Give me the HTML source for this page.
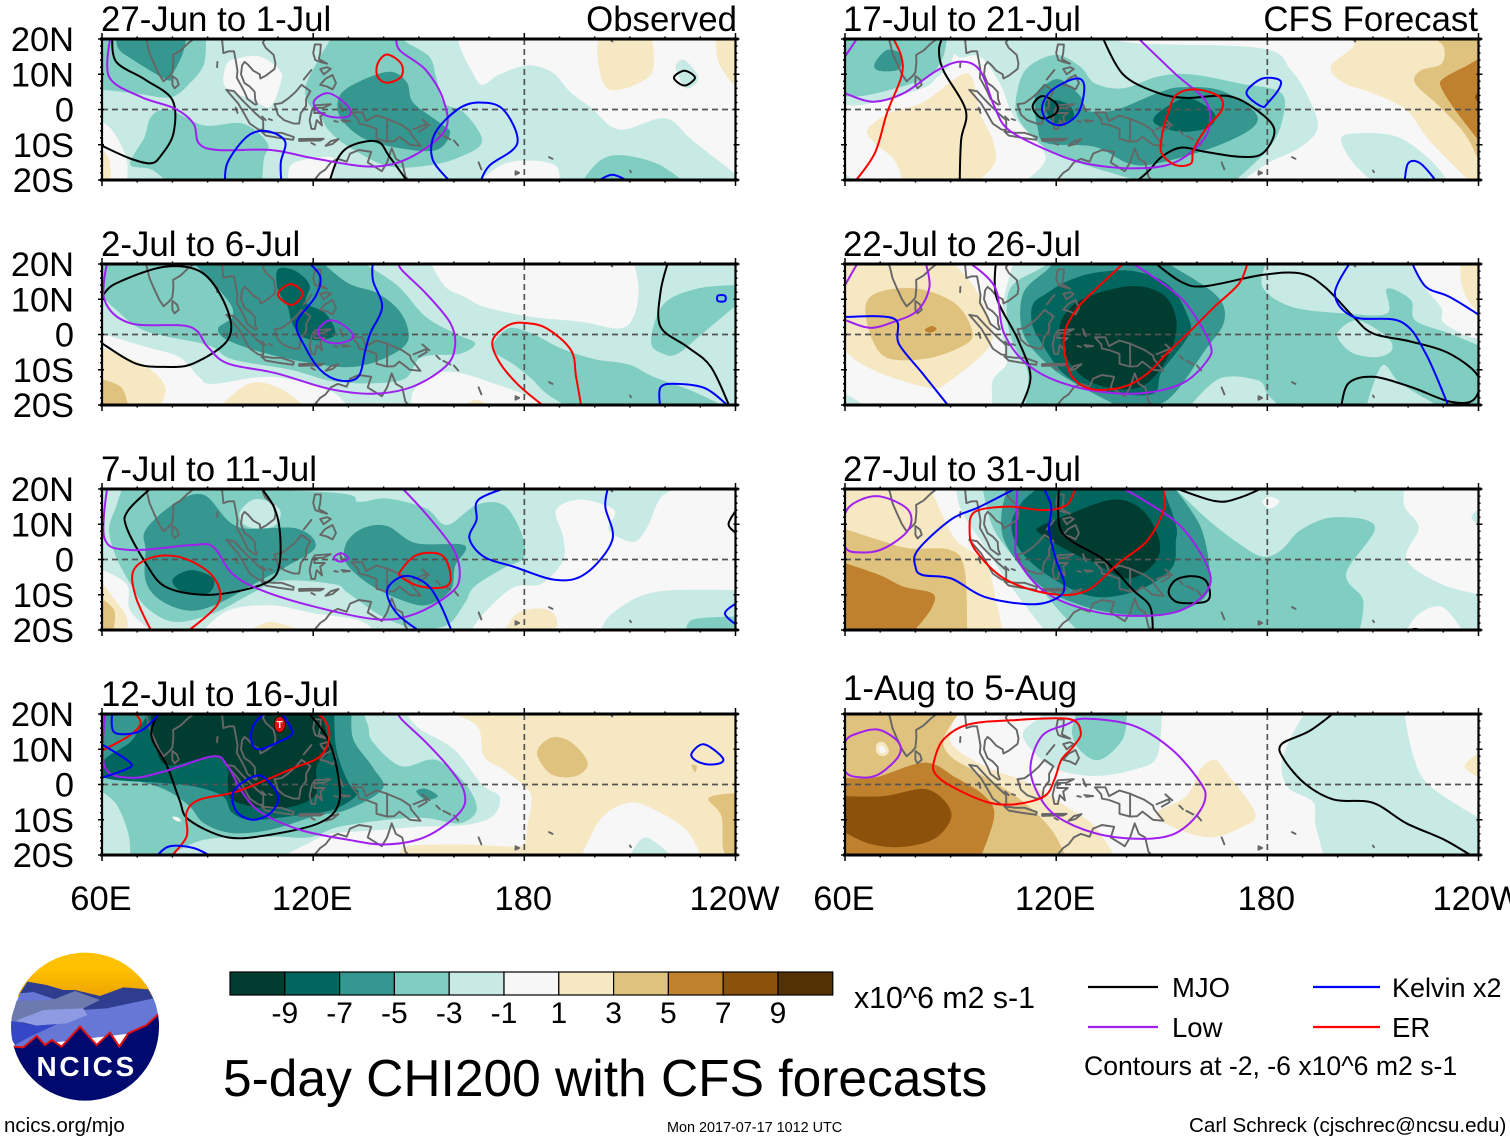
<!DOCTYPE html>
<html lang="en">
<head>
<meta charset="utf-8">
<title>5-day CHI200 with CFS forecasts</title>
<style>
html,body{margin:0;padding:0;background:#fff;width:1510px;height:1142px;overflow:hidden}
svg{display:block;font-family:"Liberation Sans",sans-serif}
</style>
</head>
<body>
<svg id="chart" xmlns="http://www.w3.org/2000/svg" width="1510" height="1142" viewBox="0 0 1510 1142">
  <rect x="0" y="0" width="1510" height="1142" fill="#fff"/>
  <g id="panels"></g>
  <g id="xlabels"></g>
  <g id="colorbar"></g>
  <text x="854" y="1008" font-size="30.3">x10^6 m2 s-1</text>
  <text x="223" y="1096" font-size="51.5">5-day CHI200 with CFS forecasts</text>
  <g>
    <line x1="1088" y1="987" x2="1158" y2="987" stroke="#000" stroke-width="2.2"/>
    <text x="1172" y="997" font-size="27.5">MJO</text>
    <line x1="1088" y1="1027" x2="1158" y2="1027" stroke="#a020f0" stroke-width="2.2"/>
    <text x="1172" y="1037" font-size="27.5">Low</text>
    <line x1="1313" y1="987" x2="1380" y2="987" stroke="#0000ff" stroke-width="2.2"/>
    <text x="1392" y="997" font-size="27">Kelvin x2</text>
    <line x1="1313" y1="1027" x2="1380" y2="1027" stroke="#ff0000" stroke-width="2.2"/>
    <text x="1392" y="1037" font-size="27.5">ER</text>
    <text x="1084" y="1075" font-size="26.6">Contours at -2, -6 x10^6 m2 s-1</text>
  </g>
  <text x="4" y="1132" font-size="20.5">ncics.org/mjo</text>
  <text x="667" y="1132" font-size="14.4">Mon 2017-07-17 1012 UTC</text>
  <text x="1189" y="1132" font-size="20.6">Carl Schreck (cjschrec@ncsu.edu)</text>
  <g transform="translate(0,930) scale(0.33333)">
    <defs>
      <clipPath id="logoClip"><circle cx="255" cy="290" r="222"/></clipPath>
      <linearGradient id="sky" x1="0" y1="0" x2="0" y2="1"><stop offset="0.4" stop-color="#ffc000"/><stop offset="1" stop-color="#eda400"/></linearGradient>
    </defs>
    <g clip-path="url(#logoClip)">
      <rect x="30" y="60" width="455" height="140" fill="url(#sky)"/>
      <polygon points="60,190 82,155 140,165 190,180 225,180 300,198 370,172 445,178 480,240 30,300" fill="#2f3d8f"/>
      <polygon points="60,190 100,186 165,208 100,215 50,215" fill="#6677d6"/>
      <polygon points="32,270 50,212 120,212 165,207 225,183 300,210 240,240 50,280" fill="#6d7aad"/>
      <polygon points="240,240 320,235 460,205 480,250 480,300 40,352 60,320 170,280 240,260" fill="#6677d6"/>
      <polygon points="48,272 130,240 250,235 262,255 200,280 110,287" fill="#8e9be3"/>
      <polygon points="30,272 110,287 172,282 90,320 45,345 30,320" fill="#3447c8"/>
      <polygon points="40,350 70,352 110,318 135,345 155,330 185,350 240,290 290,345 330,308 358,350 385,310 440,285 478,250 490,520 20,520" fill="#000a6e"/>
      <polyline points="40,350 70,352 110,318 135,345 155,330 185,350 240,290 290,345 330,308 358,350 385,310 440,285 478,250" fill="none" stroke="#e01010" stroke-width="6"/>
    </g>
    <text x="260" y="438" text-anchor="middle" font-size="84" font-weight="bold" letter-spacing="8" fill="#fff">NCICS</text>
  </g>
</svg>
<script>
// Axis values
const lonMajorTicks = [60,120,180,240];
const lonTickLabels = ['60E','120E','180','120W'];
const latMajorTicks = [20,10,0,-10,-20];
const latTickLabels = ['20N','10N','0','10S','20S'];

// Colour scale values
const colorbarLevels = [-11,-9,-7,-5,-3,-1,1,3,5,7,9];
const colorbarLabels = ['-9','-7','-5','-3','-1','1','3','5','7','9'];
const fillLevels = [-9,-7,-5,-3,-1,0,1,3,5,7,9];
const fillColors = ['#003c30','#01665e','#35978f','#80cdc1','#c7eae5','#f7f7f7','#f6e8c3','#dfc27d','#bf812d','#8c510a','#543005'];

// Panel titles
const panelTitles = ['27-Jun to 1-Jul','2-Jul to 6-Jul','7-Jul to 11-Jul','12-Jul to 16-Jul','17-Jul to 21-Jul','22-Jul to 26-Jul','27-Jul to 31-Jul','1-Aug to 5-Aug'];

// Coastlines, flat lon,lat lists
const coastlines = [
[70,21,72,21,72.8,19,73.5,16,74.8,13,76.2,10,77.5,8,79,9.3,80,10.5,80.3,13.5,80.2,15.5,82.3,16.7,84.5,18.8,86.7,20.5,87,21],
[80,9.5,81.3,8.5,81.8,7,80.6,6,80,7,80,9.5],
[94,21,94.3,18,94.5,16,96,16.5,97.5,16.5,98,14,98.5,11,98.3,9,99.7,6.5,100.5,5,101.3,3,103.5,1.4,104,1.5,103.5,3,103.4,5,102,6.5,100.5,7.5,99.5,10,99.8,12.5,100.5,13.5,101.5,12.7,103,11,104.8,10,105,8.8,106.5,9.6,109,11.5,109.3,13,108.8,15.5,106.5,17.5,105.7,19,106.7,20.5,108,21],
[95.3,5.6,97.5,5.2,100,2.5,103.5,-1,105.8,-3,105.8,-5.8,104.5,-5.7,102,-4,100.3,-1,98.7,1.7,95.3,5.6],
[105.3,-6.2,108.5,-6.6,111,-6.6,114.5,-7.8,114.3,-8.6,110,-8,106.5,-7.4,105.3,-6.2],
[116,-8.4,119,-8.3,123,-8.3,122,-8.8,119,-8.8,116,-8.9,116,-8.4],
[123.5,-10.3,125,-9,127.2,-8.4,125.5,-9.8,123.5,-10.3],
[119.5,-9.5,120.5,-10],
[109,1.5,111,1.8,113,3.2,115,5,116.7,7,119.2,5.2,118,3,118,1,116.5,-1,116,-4,114.5,-4,111.7,-3,110,-1.5,109,1.5],
[119.7,0,120.5,1.2,125,1.5,123,0.5,120.5,0.4,120.3,-1,121.5,-1,123.3,-1,122,-2,122.5,-4.5,121,-3,120.5,-5.5,119.5,-5.5,119,-3,119.7,0],
[120.5,18.5,122.2,18.4,122,16,121.6,14.3,124,13,122,13.5,120.6,14,120,16,120.5,18.5],
[122,7,123.5,8.7,125.5,9.8,126.5,7.5,125.5,5.7,124,6.5,122,7],
[122,11.5,123,10,125,11.5,124,12,122,11.5],
[117.3,8.5,119.5,11.2],
[127.6,1.5,128.5,-0.5,127.8,0.3],
[128,-3,130.5,-3.3,128.5,-3.5],
[126,-3.3,127,-3.5],
[98,0.5,98.5,-1],
[107.4,-2.7,108.3,-3],
[105.5,-2,106.5,-3],
[131,-0.8,134,-0.8,135,-3.3,138,-1.7,141,-2.6,145,-4.3,147.5,-6,147.8,-7,150.5,-10.3,147.5,-10,144.5,-7.7,143,-9,141,-9.1,138,-8.3,138,-5.5,135,-4.4,133,-4,132.8,-2.8,131,-0.8],
[141,-2.6,141,-9.1],
[148.5,-5.6,152,-4.2,152.3,-5,150,-6.3],
[151,-2.8,153,-4.5],
[155,-6,156,-7],
[157,-7.5,159,-8.5],
[160,-8.8,161.2,-10.2],
[167,-15,167.8,-17],
[177.5,-17.5,178.5,-18,177.5,-18.5,177.5,-17.5],
[187,-13.5,188,-14],
[210,-17.3,210.3,-17.8],
[204,20.3,205,19.3],
[92.7,12,92.8,13.5],
[119.5,-21,122,-18,123.5,-17,125,-15,127,-14,129.5,-14.8,130.5,-12.5,133,-11.5,136.5,-12,135.5,-15,139.5,-17.5,141,-15,142.3,-11,143.5,-14,145.3,-15,146.2,-19,148,-21]
];

// Shaded CHI200 anomaly regions, painted in order: [level, flat lon,lat outline]
const shadingJun27 = [
[-1,[59,21,161,21,162,17,165,11,168,7,173,10,181,12.5,188,10.5,193,5,199,.5,207,-5.7,220,-2.5,228,-9,241,-19,241,-21,59,-21]],
[-1,[223,12,225.5,14,229.5,9,226,6]],
[0,[59,-3,63,-6,67,-14,67,-21,59,-21]],
[1,[59,-10.5,62,-14,62.5,-21,59,-21]],
[0,[113.5,-16,119,-14,126,-14,124,-21,113,-21]],
[0,[166.5,-21,174,-15.5,182,-14.5,189,-16,190,-21]],
[0,[95.5,13,99,14.6,105,15,110.6,11,110.6,7,107.7,.7,103,2.7,95,6.4]],
[-3,[59,21,89.5,21,89,13,85,7.5,79.5,3.5,70,4.5,61,5.5,59,5]],
[-3,[79,0,89,-4.5,100,-4,107,-9.5,106,-14,105.5,-21,79,-21,74,-17,68,-15.5,72,-8,74,-2]],
[-3,[125.6,21,145,21,146.6,19,153,15,155,9,157,2,163,-1,168,-9,161.6,-13.5,152,-16,141,-16,130,-10.5,124.5,-6,122,-2,118.5,2,118,7,122,15]],
[-3,[196,-21,201.5,-14.5,208,-13,218,-15.5,226,-21]],
[-5,[64,21,84,21,83,16,80,10,78.5,8.4,68,14.6,64.6,17.4]],
[-5,[127.6,4,133.3,8,141.8,10.7,146.6,7.7,148.4,2,156,-3.8,158.9,-6.7,155,-11.5,144.7,-11,134,-8,127.6,-2]],
[1,[201,21,216,21,216,10,204.5,5.5,201,13]],
[1,[234.5,21,241,21,241,7,239,7.5,235,14]]
];
const shadingJul2 = [
[-1,[59,21,241,21,241,-21,59,-21]],
[0,[153,21,211,21,212.5,12.6,211,5,207,1.7,196,3.6,182,5,168.5,7.9,163,10.7,157.5,13.6]],
[0,[59,.5,72.4,-3.5,82,-6.4,87.5,-12,91.6,-14,108,-12,124.5,-15.8,130,-21,59,-21]],
[0,[148,-21,148.6,-15.8,155,-11,162,-11,171.6,-14,180,-17,187,-21]],
[1,[59,-3.5,72.4,-9,78,-15,76,-21,59,-21]],
[3,[59,-12.5,65.5,-15,67.5,-21,59,-21]],
[1,[93,-21,101.6,-14,110,-15,118.5,-21]],
[1,[161.5,-21,166.5,-18.5,170.5,-21]],
[-3,[59,21,133,21,143.8,14,152,5,161,0,166,-2.5,161.6,-5.5,150.7,-6.5,145,-13,127.3,-13.5,113.6,-10,97,-7,90,-3,72.4,1,64,7,59,12]],
[-3,[171,-4,175.4,1.7,182,.3,190.6,-4,200,-7,209.7,-8.5,216.7,-12,227.6,-16,238,-21,193,-21,186,-16.5,182,-12.5,177,-8.5]],
[-3,[216,-2,219.5,8.5,229,13,241,14,241,9,230.3,0,223.5,-5.5,219.5,-5.5]],
[-5,[85.4,21,122,21,130,14.5,138.3,11.7,145,6,147,-1.6,141,-6.4,131.4,-9.2,120.4,-8.3,106.7,-5.4,95.7,-1.6,93,1.7,97,5,95.7,9.8]],
[-7,[110,18.5,115,18,119,14,118,9,123.5,6,126.3,.3,122,-1.6,117,-.6,114,3.2,112.7,8,110,12.7]]
];
const shadingJul7 = [
[-1,[59,21,241,21,241,-21,59,-21]],
[0,[189,14,196,17,205.6,14,204,8.4,211,5,215,9.3,219,17.8,226,21,241,21,241,-8.7,222,-8.7,212.5,-10.6,204,-16.2,201.5,-21,164.4,-21,168.5,-15.3,176.8,-8,185,-6.8,191,-.2,191,6.5]],
[0,[59,-2.5,67,-7,68,-14.5,75,-21,59,-21]],
[0,[88,-21,95.7,-14.5,108,-13,120.4,-15.3,133,-17.2,138,-21]],
[1,[59,-5,63,-10.6,67,-16.2,67,-21,59,-21]],
[3,[59,-10.5,63.5,-14.5,63,-21,59,-21]],
[1,[101,-21,108,-17.7,119,-21]],
[1,[174,-21,178,-15.3,185,-13.9,189,-16.2,189,-21]],
[-3,[66,21,125,19,132.8,16.4,141,17.3,152,14.5,158,9.8,166.5,15.5,174,15.5,178.8,8.4,180,.8,174,-2.5,165.8,-7.7,163,-12.5,158,-18.6,149,-19.5,139.7,-16.2,130,-9.6,126,-7,110.8,-6,102.6,-9.6,91.6,-15.3,80.6,-17.7,72.4,-13.4,68,-6.8,64,.8,62,8.4,64,15]],
[-1,[99,13,103,17,108.5,16,110.8,13,108.5,9.3,101.4,9.3]],
[-3,[226,-21,228,-17,241,-16.2,241,-21]],
[-5,[72.4,8.4,80.6,15.9,89,18.3,98.5,9.3,115.3,8.8,120.7,3.6,112.4,-2,105.3,-5.8,93,-12.5,84.7,-14.5,76.5,-11.5,72.4,-6,72.4,2.7]],
[-5,[129.4,4.6,134,8.8,141,9.5,149.3,4.6,163,4,160.3,-2,159,-8.7,152,-13,143.8,-11,135.6,-6.8,129.4,-1]],
[-7,[80,-5.8,85.4,-3,91.6,-5.4,90.2,-9.6,83.4,-9.6]]
];
const shadingJul12 = [
[1,[156.8,21,166.5,16.7,168.5,8,174,4.3,181,-1.4,182,-5.2,181,-11,180,-16.7,176.8,-17.6,161.6,-17,146.5,-17.6,145,-21,196,-21,201.5,-10,208.4,-5.5,215,-6.2,226,-12.9,230.3,-21,241,-21,241,21]],
[3,[183.6,9,187.7,13.3,193.3,12,198,6.2,194.7,2.4,187.7,2.9]],
[3,[232.4,-3.8,241,-2.4,241,-21,236.7,-19,236,-9]],
[3,[229,5.2,227.5,5.5,228.5,3.5]],
[-1,[209.7,-21,214.4,-15,222.6,-21]],
[-1,[59,21,146,21,150,16,160,10,168,0,173,-3.5,171,-9,163,-11.5,150,-12,138,-13,125,-14,118,-17,110,-21,59,-21]],
[-3,[59,21,134,21,135.6,16.7,137,12,145,5.2,154.8,7,163,.5,166.5,-7,161.6,-11,152,-9.5,141,-10,127.3,-12,119,-15,108,-14.8,89,-15.7,78,-21,68,-21,67.5,-14,64,-5.5,59,-1.5]],
[0,[80,-9.2,81.5,-9.3,82.5,-10.4,81,-10.3]],
[-5,[59,21,131,21,131.4,12.8,137,4.8,139.7,-1.2,130,-7,120.4,-9,108,-12.8,97,-13.8,89,-11,84.7,-6,78,-1.5,70,1,59,3]],
[-5,[149.3,-2,152,-1.2,155.4,-3.3,152,-4.3]],
[-7,[73.7,21,126,21,126.6,10,130,.5,132.8,-2.4,126,-7,113.6,-9,102.6,-10,97,-8,94.3,-3.3,86,-.5,76.5,.5,60.7,1.9,60.7,7,68,12,71,16.7]],
[-9,[74,21,122,21,124.6,10,121,5.2,120.4,-3.3,112,-6.7,105.3,-6.7,97,-4.3,95.7,.5,95.7,4.3,91.6,8,78.5,5.5,75,12,74,17]]
];
const shadingJul17 = [
[1,[198,12,204.5,18,203,21,241,21,241,-21,238,-21,226,-8.7,219.5,-.2,210,4.6,202,7.4]],
[3,[225.6,21,230,18,229.5,13,223.5,11,222,7.4,229,.8,236,-6.8,240,-14.5,241,-19,241,21]],
[5,[241,15,237,12.6,230,8.8,229.5,6,234,-1,240,-8.7,241,-10]],
[7,[241,6,239,3.5,241,1]],
[1,[66.4,-5.8,72.5,-1,82,2,93,9.8,96.3,8.4,98.4,-1,102,-8.7,102.5,-15.3,97,-21,76.6,-21,74,-14.3,68.5,-9.6]],
[-1,[88,21,133.7,21,143,18.8,178.6,17.3,186.8,11,191.6,3.6,194.3,-5,189.5,-10.6,180,-15.3,172,-21,110,-21,117,-13.4,108,-2,104,7.4,98.4,15,92,15]],
[-1,[201,-8.7,204.5,-6.8,216.7,-7.7,226.3,-14.3,231.7,-21,210.6,-21,204.5,-15.3]],
[-1,[59,-17,63,-21,59,-21]],
[-1,[59,21,92,21,90,13,86,9,82,6,66,1.5,59,1.5]],
[-3,[109,5.5,112,12,120,15.5,127,12,131,7.4,139,6,148.7,9.3,158,10,172,7.4,184,4.6,184,-4,180,-11.5,170,-21,146,-21,123,-14,114.7,-9,109,-2]],
[-3,[59,21,89,21,87.5,14,82,8.5,66,4,59,4]],
[-5,[68.4,13,72,16.9,76,15.5,75.3,11.4,69.7,11]],
[-5,[114,3.6,117.4,7.4,121.4,8.4,127,3.6,128.3,-.2,136.5,-.2,148.7,4.6,155.4,6.3,166.4,5.5,176,-.2,176,-5,165,-10.6,148.7,-15.3,140.6,-15.3,131,-10.6,117.4,-9.6,114.7,-5]],
[-7,[148,-2,153,1.7,158,3.2,164.9,-1,163.5,-5,155.5,-6.3,148.7,-4.4]],
[-7,[117.4,2.7,123,1.7,125,-2,120,-4,117.4,-1]]
];
const shadingJul22 = [
[1,[59,21,90,21,96.3,14,101,4.3,101,-3.5,90,-13,85,-15.2,72.8,-12,63,-7.3,59,-2.5]],
[3,[65.8,7.9,69.9,12.1,80.7,13,91.6,8.6,96.3,.3,93,-3.5,83.4,-6.8,72.5,-6.8,67.8,-1.6]],
[5,[82.7,1.4,84.8,2.4,86,1.4,84,.5]],
[1,[235,21,241,21,241,5.5,237.5,9,235,15]],
[-1,[59,-16,67,-21,59,-21]],
[-1,[108,21,220,21,225,13,229.5,7.5,230,3.5,237,-.5,241,-1,241,-21,102,-21,102,-13,106,-8,104.5,0,105,9.5]],
[-3,[107.2,13.5,114.7,18.3,120,21,180,21,178.6,13.5,186.8,7.9,201.8,6,214,6,214,13,220.8,9.8,222,4,231.7,.3,241,-3.5,241,-21,111,-21,112,-11,108,-3,106,5]],
[-1,[200.4,1.2,205.8,4,214,-.7,215.4,-4.4,211.3,-6.4,204.5,-5.4,200.4,-1.6]],
[-1,[208,-21,212.6,-8.8,218,-14,230,-21]],
[-1,[157.5,-21,166.4,-12.5,177.3,-13,180,-16.8,184,-21]],
[-5,[110.6,11.6,117.4,18.3,120,21,150,21,165,11.6,167.8,4,162.3,-4.5,151.4,-18.7,139,-21,125.6,-14,117.4,-8.3,110.6,.3]],
[-7,[113.5,8.8,117,11.5,122.9,15,131,17.5,142,18,152,14,157.5,5,157.5,-.5,150,-10.5,147,-17,131,-15.5,122,-11,115,-1,113,4]],
[-9,[121.5,4,127,9.8,140.5,13.7,150,11.6,154,5,153.3,-2.6,148.7,-11,142,-15.4,131,-14,124,-8.3,121.5,-1.6]]
];
const shadingJul27 = [
[1,[59,21,84,21,88,12,92,5,100,-1,103,-12,105,-21,59,-21]],
[3,[59,9,69.8,5.5,78,3.2,90,2.7,94,-3,94.7,-21,59,-21]],
[5,[59,-.7,69.8,-4.4,76.6,-7.7,84.8,-9.6,84.8,-13.4,80.7,-19,78,-21,59,-21]],
[-1,[91.6,21,93,14,99.7,3.6,106.5,-6.8,117.4,-21,241,-21,241,-10,229.5,-7,219.5,0,223,9,219,15,219,21]],
[-1,[241,15,238,12,241,9]],
[0,[219,-21,223,-15.5,229.8,-13.5,236,-21]],
[-3,[99,21,153,21,162.3,12,171.8,4.6,178.6,.8,184,2.7,189.5,8.4,199,12,210.6,9.3,202.4,-4,207.2,-11.5,206,-21,128,-21,124,-18,112,-4,102.4,8.4]],
[0,[178.6,16.4,180.8,17.8,183.4,16.4,180.8,14.5]],
[-5,[109,21,153,21,161,9.3,163.7,-4,162.3,-10.6,155.5,-14.4,143.3,-15.8,128.3,-13.4,114.7,-6.8,105.2,5.5,105.2,17]],
[-7,[107.3,9.3,110,16,116,21,150,21,154,10,154,5,152.8,-2.5,143.3,-8.7,131,-10.6,120,-6,110.6,1.5]],
[-9,[115.3,9.3,124,13,136.3,17,144.5,14,149.3,5.5,148,-1,140.5,-5.4,131,-1,123,2.7,115.3,7.4]]
];
const shadingAug1 = [
[1,[59,21,92.2,21,90,12,99.7,5.2,112,.5,124.2,-7.1,131,-12,137,-21,59,-21]],
[1,[148.7,-8,157,-3.3,161,4.3,165,7,168.4,3.3,176.5,-8,173,-12,163.7,-15,152.8,-12]],
[1,[241,9.5,236,5.2,241,1.5]],
[3,[59,21,93,21,88,13,90,8,96,4.3,105,-1,112,-6,118.8,-13,123,-21,59,-21]],
[1,[69,11.5,71,12,72.5,9.5,71,8,69,9]],
[0,[69.8,10.8,70.8,10.8,71.5,9.5,70.6,8.8,69.8,9.5]],
[5,[59,2,68.4,2,82.7,6.2,91.6,1.9,99.7,-3.3,102.4,-9,98.4,-21,59,-21]],
[7,[59,-3.3,71,-3.3,83.4,-1.4,90.2,-8,86,-15,76.6,-17.7,67,-16.8,59,-13]],
[-1,[110.6,14.7,116,19.5,118,21,150,21,148.7,8,142.5,4.3,131,2.4,120.1,4.3,113.3,9.5]],
[-3,[124.5,14.7,126,21,140,21,139,13,132.4,7,127,9.5]],
[-1,[184,5.2,186,12,191,21,218.8,21,221.5,8,226.3,-.5,241,-10,241,-21,196.3,-21,193.6,-11,193,-5,186,-1]],
[-3,[217,-21,219,-19.6,221,-21]]
];

// Filtered anomaly contours: [series, closed, flat lon,lat line]
const contoursJun27 = [
['mjo',false,[63,21,64,13.6,72.4,8.4,80,2.7,80.3,-6.8,76.5,-13.4,73.7,-15.3,68,-13.9,60,-10.3]],
['mjo',true,[222.5,9,225.5,11,228.5,9,225.5,6.8]],
['mjo',false,[124.5,-21,127.3,-13.4,131.4,-10,138.3,-9.1,141.7,-13.4,147.2,-21]],
['low',false,[62.5,21,62,9.3,71,3.6,80.6,.3,86,-4,87.5,-9.6,93,-11.5,108,-11.5,120.4,-13.9,137,-16.2,148,-13.4,157.5,-5.8,157,2.7,152,11.2,144.5,16.9,143.8,21]],
['low',true,[120.4,2.7,124.6,4.6,130,.8,130,-2,124.6,-2,121,0]],
['er',true,[138.3,13,141,15.6,145,13,145,9.3,141,7.6,138.3,9.3]],
['kelvin',false,[95,-21,95.7,-15,101.2,-7.7,106.7,-6.1,112,-9,110.8,-15,111,-21]],
['kelvin',false,[159.6,-21,154,-14.3,154.6,-6.8,161,0,167,2,174,0,178,-9.6,170,-16,167.4,-21]],
['kelvin',false,[200,-21,205,-18.5,210.5,-21]]
];
const contoursJul2 = [
['mjo',false,[60,10.7,64,14.5,77.9,19.2,88.8,17.3,95.7,6.8,95.7,-1.6,86,-8.2,77.9,-9.2,69.5,-8.2,60,-2.5]],
['mjo',false,[221,21,218.7,12,218.7,2.2,226.3,-3.5,233,-9.2,238.5,-21]],
['low',false,[61.6,21,60.7,9.8,68,3.2,84.8,2.2,90,-3.5,95.7,-8.2,109.5,-11,124.5,-15.4,137,-16.8,148,-14.9,157.5,-9.2,160.3,-3.5,159,3.2,152,11.7,145,18.5,144.5,21]],
['low',true,[121.4,1.2,124.6,4,128.7,2.6,131.4,-.7,127.3,-2.5,123,-1.6]],
['er',true,[110,11.7,113.6,14.3,117,11.7,114.4,8.5,111.7,9.3]],
['er',false,[186.4,-21,178,-14,172.6,-7.3,171,-1.6,175.4,2.6,180,3.3,186.4,1.7,193.3,-4.5,194.7,-12,196.3,-21]],
['kelvin',false,[118,21,122,16.4,120.6,10.7,115.3,3.2,117.7,-3.5,122,-10,127.3,-13,132.8,-12,134.8,-4.5,136.2,.3,139.6,7.9,137,15.3,137,21]],
['kelvin',false,[218.7,-21,218.7,-15,223.5,-14,231.7,-15.4,238.6,-21]],
['kelvin',true,[235,11,237,11,237,9.5,235,9.5]]
];
const contoursJul7 = [
['mjo',false,[74.8,21,67.5,14,66.9,9.3,72.4,-1,78,-7.7,89,-10,100,-8.7,108,-5.8,110.5,-1,110.5,8.4,108.8,15,104.6,21]],
['mjo',false,[241,15,238,10,241,7]],
['low',false,[61.6,21,60.7,6,68,2.7,85.6,4.1,91.6,3.6,97,-4,105.3,-8.7,120.4,-13.4,138.3,-17,149.3,-15.3,159,-9.6,161.6,-5,160,2.7,152,13,144.5,21]],
['low',true,[126,.8,128,1.8,130,.3,128,-.6,126.3,0]],
['er',false,[74.4,-21,69.6,-10.6,69,-3,75,.8,83.4,.3,91.6,-4.9,93,-12.5,83.4,-21]],
['er',true,[145,-3,149.5,1.3,156.4,1.3,159,-4,157.7,-7.7,150.7,-7.7,145,-5]],
['kelvin',false,[177,21,167,17,166.4,11.2,164.4,6,168.5,.8,176.8,-2,189,-5.8,197.4,-4,205,5.5,203,15,204,21]],
['kelvin',false,[151.3,-21,143.8,-15.3,141,-8.7,145.8,-4.7,152,-6.8,156,-12.5,159.6,-21]],
['kelvin',false,[241,-12,237,-15.3,241,-19]]
];
const contoursJul12 = [
['mjo',false,[76.5,21,74,14,78.5,5.2,82,-4.3,84.7,-10,95.7,-15,108,-14.2,121.8,-10.9,127.3,-5.2,126.6,5.2,123.7,13.8,118,21]],
['low',false,[61,21,60.7,5.2,68,1.9,78,3.8,91.6,8,95.7,5.2,100,-2.4,105.3,-8,116.4,-12.9,130,-15.7,141,-17,152,-14.8,161.6,-8,163,-2.4,159,4.3,152,12,145,18.6,144,21]],
['er',false,[60,9.6,68,14,71,17.6,68.5,21]],
['er',false,[79,-21,84,-14.8,84,-8,87.7,-4.3,98.6,-1.9,113.6,4.3,122,8,124.6,13.8,123,18.6,119,21]],
['kelvin',false,[63,21,63.5,14.8,71,15.2,76.5,20.5]],
['kelvin',false,[60,11.4,68,6.2,66.8,4.3,60,1.9]],
['kelvin',false,[75,-21,79,-17.6,86,-18,92,-21]],
['kelvin',true,[105.3,2.4,110,-3.3,108,-8,103,-10,98.5,-8,97,-3.3,99.8,.5]],
['kelvin',false,[107,21,103,16.7,102.5,12,104.6,10,110,12,114,14.8,110.5,21]],
['kelvin',true,[227.6,9,231,11.4,236,8,236,6.2,232,5.7,228.4,7]]
];
const contoursJul17 = [
['mjo',false,[88,21,86.7,17,88,11,94.3,-.2,93,-8.7,92.6,-21]],
['mjo',false,[133,21,139,10,148.7,4.8,157,3.3,169,3.8,177,-.2,182,-5.8,178.6,-12.5,172,-13.4,162.3,-12,155.5,-10.8,150,-13.4,146,-17.7,142,-21]],
['mjo',true,[113.3,.8,116,3.8,120,1.7,120,-1,116,-2.5]],
['low',false,[60,4.6,67.8,2.2,76.6,4.6,86,11,93,13.6,98.4,11,102.5,.7,106.5,-5.8,117.4,-11.5,128.3,-15.3,142,-16.7,153,-15.3,161,-9.6,163.7,-4,162.3,2.7,154,10,142.5,21]],
['low',false,[60,15,64,21]],
['er',false,[62.3,-21,68.4,-12.5,72,-.8,76,9.3,76,15,73.2,21]],
['er',true,[150,-7.7,151.5,-2,154,4,159.6,5.7,166.4,3.6,167,-.2,162.3,-5.8,159,-11.5,158.3,-15.3,154,-15.8,150,-12.5]],
['kelvin',true,[116,.8,118.8,5.5,125.6,8.8,128,6.5,126.3,-1,121.5,-4.4,117.4,-3]],
['kelvin',true,[174.3,5.5,178.6,8.8,183.4,8.4,183.4,6,180,1.7,178.6,.8,175,3.2]],
['kelvin',false,[219,-21,220,-15.3,223.5,-15.3,228.5,-21]]
];
const contoursJul22 = [
['mjo',false,[103,21,103,10.7,109.2,-1.6,112.7,-12,109.7,-21]],
['mjo',false,[147.3,21,155.4,15,162.3,13.7,178.6,16.9,189.5,17.3,196.3,13.5,204.5,5,210,.3,220.8,-2,231.7,-5.4,240,-12,238.5,-18.6,231.7,-19,220.8,-14.9,210,-12,203,-13.9,201,-21]],
['low',false,[60,14,64,21]],
['low',false,[60,4.1,67,1.9,73.9,3.6,80.7,6.9,84,13.6,82.7,21]],
['low',false,[94.3,21,102.5,13.6,105.2,.3,112.7,-9.2,125.6,-14.9,142,-16.8,155.5,-14,163,-7.3,163.7,-2.6,158.3,6.9,152.8,12.6,140.5,21]],
['er',false,[174.5,21,172,14.5,165,7.9,158.3,1.2,151.4,-5.4,146,-11,139,-14.9,129.7,-15.4,124,-11,122.2,-.7,125.6,6.9,131,12.6,140,21]],
['kelvin',false,[60,5,73.9,4.5,75.3,-2.6,82,-11,90,-21]],
['kelvin',false,[204,21,199.2,11.6,204.5,5,218,3.6,225,-5.4,231.7,-21]],
['kelvin',false,[220.8,21,225,13.6,231.7,10.7,241,5]]
];
const contoursJul27 = [
['mjo',false,[120.8,21,120.8,10,124,5.5,133.7,-.2,141.9,-8.7,146.7,-13.4,147.4,-21]],
['mjo',false,[152,21,165,16.6,172,17.5,180,21]],
['mjo',true,[152,-8.7,154,-5.8,158.3,-4.7,162.3,-5.8,163.7,-9.6,162.3,-12,155.5,-12.3,152.8,-11]],
['mjo',false,[219,-21,222,-19.7,225,-21]],
['low',true,[60,13,64.4,16.9,70.5,17.8,78,14,78,8.4,71.2,3.2,65,2,60,3.6]],
['low',false,[109,21,108.6,7.4,109.2,-.2,117.4,-9.6,131,-14.8,144.6,-16,155.5,-14.4,163,-8.7,163,-2,155.5,9.3,144.6,17,137,21]],
['er',false,[125.6,21,123,15.5,116.3,14,106.5,15,97,13.6,95.4,8.4,97,2.7,105.2,-5.4,117.4,-9.6,128.3,-9,137.8,-1,146,5.5,150.8,15,150,21]],
['kelvin',false,[110,21,98.4,15,90.2,11.4,80.7,2.7,80,-2,82,-4.4,90.2,-5.4,99.7,-10.6,113.3,-12.7,120.8,-10.6,122.3,-6.8,120,-.2,118,8.4,118.6,15,116,21]]
];
const contoursAug1 = [
['mjo',false,[199.7,21,192,15.2,184,11.4,184.8,7,191,0,199,-4.3,210,-5.2,219.5,-11,230.3,-15.7,239.2,-21]],
['low',true,[60,12,64.4,14.8,69.8,15.5,75.2,12,75.2,8,69.8,3,65,2,60,3.8]],
['low',true,[122.9,17,128.3,18.7,141.9,16.7,152.8,10,161,.5,162.3,-4.3,158.9,-10,152.8,-14.3,143.3,-15.4,131,-13.8,120.1,-9,114.7,-2.4,112.7,5.2,116,13.8]],
['er',true,[85.4,7,88.1,12.9,94.9,17,107.2,18.2,123.5,18.6,127,14.8,125,10.9,121.5,7,119.5,1.4,116.7,-3.3,108.5,-5.6,100.4,-5,90.2,-.5,85.5,3.3]]
];

// Tropical cyclone marker in the 12-Jul panel
const cycloneLon = [110.5];
const cycloneLat = [17];

const panelShading = [shadingJun27,shadingJul2,shadingJul7,shadingJul12,shadingJul17,shadingJul22,shadingJul27,shadingAug1];
const panelContours = [contoursJun27,contoursJul2,contoursJul7,contoursJul12,contoursJul17,contoursJul22,contoursJul27,contoursAug1];

// Layout
const SVGNS = 'http://www.w3.org/2000/svg';
const colLeft = [102,845];
const rowTop = [39,264,489,714];
const plotW = 633.5;
const plotH = 141;
const titleBase = [31,256,481,706,31,256,481,700];
const seriesColor = {mjo:'#000000',low:'#a020f0',kelvin:'#0000ff',er:'#ff0000'};

function xAxis(col,lon){return colLeft[col]+(lon-60)*plotW/180;}
function yAxis(row,lat){return rowTop[row]+(20-lat)*plotH/40;}
function colorFor(level){return fillColors[fillLevels.indexOf(level)];}

function node(tag,attrs,parent){
  const el=document.createElementNS(SVGNS,tag);
  for(const k in attrs){el.setAttribute(k,attrs[k]);}
  parent.appendChild(el);
  return el;
}
function pairs(flat){
  const out=[];
  for(let i=0;i<flat.length;i+=2){out.push([flat[i],flat[i+1]]);}
  return out;
}
function outside(p){return p[0]<60||p[0]>240||p[1]>20||p[1]<-20;}
function smoothPath(col,row,flat,closed){
  const pts=pairs(flat);
  const n=pts.length;
  const px=pts.map(p=>[xAxis(col,p[0]),yAxis(row,p[1])]);
  const tan=pts.map((p,i)=>{
    if(outside(p)){return [0,0];}
    const a=closed?px[(i-1+n)%n]:px[Math.max(i-1,0)];
    const b=closed?px[(i+1)%n]:px[Math.min(i+1,n-1)];
    return [(b[0]-a[0])/6,(b[1]-a[1])/6];
  });
  let d='M'+px[0][0].toFixed(1)+' '+px[0][1].toFixed(1);
  const segs=closed?n:n-1;
  for(let i=0;i<segs;i++){
    const j=(i+1)%n;
    d+='C'+(px[i][0]+tan[i][0]).toFixed(1)+' '+(px[i][1]+tan[i][1]).toFixed(1)+' '
      +(px[j][0]-tan[j][0]).toFixed(1)+' '+(px[j][1]-tan[j][1]).toFixed(1)+' '
      +px[j][0].toFixed(1)+' '+px[j][1].toFixed(1);
  }
  return d+(closed?'Z':'');
}
function straightPath(col,row,flat){
  return pairs(flat).map((p,i)=>(i?'L':'M')+xAxis(col,p[0]).toFixed(1)+' '+yAxis(row,p[1]).toFixed(1)).join('');
}

const panelsRoot=document.getElementById('panels');
const defs=node('defs',{},panelsRoot);

panelTitles.forEach((title,idx)=>{
  const col=idx<4?0:1;
  const row=idx%4;
  const left=xAxis(col,60), top=yAxis(row,20), right=xAxis(col,240), bottom=yAxis(row,-20);

  const clip=node('clipPath',{id:'clip'+idx},defs);
  node('rect',{x:left,y:top,width:plotW,height:plotH},clip);

  const g=node('g',{},panelsRoot);
  
  

  const inner=node('g',{'clip-path':'url(#clip'+idx+')'},g);
  
  

  const bg=node('rect',{x:left,y:top,width:plotW,height:plotH,fill:colorFor(0)},inner);
  
  

  panelShading[idx].forEach(item=>{
    const p=node('path',{d:smoothPath(col,row,item[1],true),fill:colorFor(item[0])},inner);
    
    
  });

  coastlines.forEach(line=>{
    const p=node('path',{d:straightPath(col,row,line),fill:'none',stroke:'#666666','stroke-width':1.9,'stroke-linejoin':'round','stroke-linecap':'round'},inner);
    
    
  });

  const eq=node('line',{x1:left,x2:right,y1:yAxis(row,0),y2:yAxis(row,0),stroke:'#555','stroke-width':1.7,'stroke-dasharray':'6 4'},inner);
  
  
  const dl=node('line',{x1:xAxis(col,180),x2:xAxis(col,180),y1:top,y2:bottom,stroke:'#555','stroke-width':1.7,'stroke-dasharray':'6 4'},inner);
  
  

  panelContours[idx].forEach(item=>{
    const p=node('path',{d:smoothPath(col,row,item[2],item[1]),fill:'none',stroke:seriesColor[item[0]],'stroke-width':2},inner);
    
    
  });

  if(idx===3){
    cycloneLon.forEach((lon,i)=>{
      const m=node('ellipse',{cx:xAxis(col,lon),cy:yAxis(row,cycloneLat[i]),rx:5.5,ry:8,fill:'#e01010',stroke:'#000','stroke-width':.6},inner);
      
      
      const t=node('text',{x:xAxis(col,lon),y:yAxis(row,cycloneLat[i])+3.5,'text-anchor':'middle','font-size':10,'font-weight':'bold',fill:'#fff'},inner);
      
      
      t.textContent='T';
    });
  }

  // frame
  const ft=node('line',{x1:left-2,x2:right+3,y1:top,y2:top,stroke:'#000','stroke-width':3},g);
  
  
  const fb=node('line',{x1:left-2,x2:right+3,y1:bottom,y2:bottom,stroke:'#000','stroke-width':3},g);
  
  
  const fl=node('line',{x1:left,x2:left,y1:top,y2:bottom,stroke:'#000','stroke-width':2.2},g);
  
  
  const fr=node('line',{x1:right,x2:right,y1:top,y2:bottom,stroke:'#000','stroke-width':2.2},g);
  
  

  // longitude ticks
  let dTicks='';
  for(let lon=60;lon<=240;lon+=10){
    const len=lonMajorTicks.includes(lon)?6:2.5;
    const x=xAxis(col,lon).toFixed(1);
    dTicks+='M'+x+' '+(top-len)+'V'+top+'M'+x+' '+bottom+'V'+(bottom+len);
  }
  // latitude ticks
  for(let lat=-20;lat<=20;lat+=2){
    const len=latMajorTicks.includes(lat)?4:2;
    const y=yAxis(row,lat).toFixed(1);
    dTicks+='M'+(left-len)+' '+y+'H'+(left+(len>2?2:0))+'M'+(right-(len>2?2:0))+' '+y+'H'+(right+len);
  }
  const ticks=node('path',{d:dTicks,stroke:'#000','stroke-width':1.5,fill:'none'},g);
  
  

  // title
  const tt=node('text',{x:left-(col?2:1),y:titleBase[idx],'font-size':34.8},g);
  
  
  tt.textContent=title;

  // latitude labels
  if(col===0){
    latMajorTicks.forEach((lat,i)=>{
      const t=node('text',{x:74,y:yAxis(row,lat)+12,'text-anchor':'end','font-size':34.4},g);
      
      
      t.textContent=latTickLabels[i];
    });
  }
});

// Source tags
const srcObs=node('text',{x:737,y:31,'text-anchor':'end','font-size':34.8},panelsRoot);


srcObs.textContent='Observed';
const srcFc=node('text',{x:1478,y:31,'text-anchor':'end','font-size':34.8},panelsRoot);


srcFc.textContent='CFS Forecast';

// Longitude labels
const xRoot=document.getElementById('xlabels');
[0,1].forEach(col=>{
  lonMajorTicks.forEach((lon,i)=>{
    const t=node('text',{x:xAxis(col,lon)-1,y:910,'text-anchor':'middle','font-size':34.5},xRoot);
    
    
    t.textContent=lonTickLabels[i];
  });
});

// Colour bar
const cbRoot=document.getElementById('colorbar');
const cbLeft=230, cbBox=54.8, cbTop=972, cbH=23;
colorbarLevels.forEach((lv,i)=>{
  const r=node('rect',{x:cbLeft+i*cbBox,y:cbTop,width:cbBox,height:cbH,fill:fillColors[i],stroke:'#000','stroke-width':1.2},cbRoot);
  
  
});
colorbarLabels.forEach((lab,i)=>{
  const t=node('text',{x:cbLeft+(i+1)*cbBox,y:1023,'text-anchor':'middle','font-size':30},cbRoot);
  
  
  t.textContent=lab;
});
</script>
</body>
</html>
